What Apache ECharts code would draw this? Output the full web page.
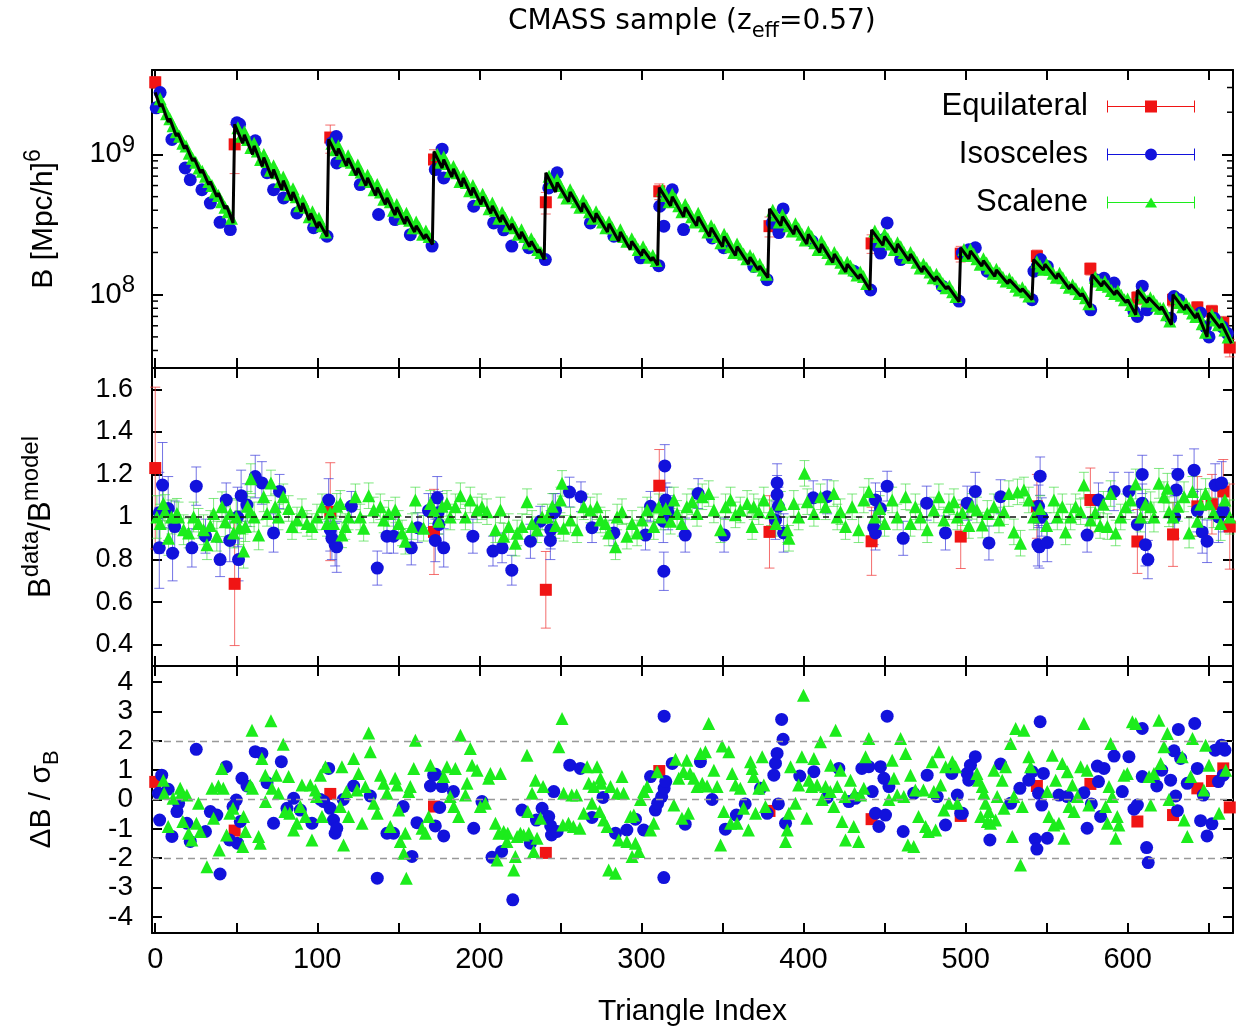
<!DOCTYPE html>
<html><head><meta charset="utf-8">
<script src="https://cdn.jsdelivr.net/npm/echarts@6/dist/echarts.min.js"></script>
<style>html,body{margin:0;padding:0;background:#fff}#c{width:1253px;height:1030px}</style>
</head><body><div id="c"></div>
<script>
// ---------------- axes / ticks ----------------
const X_MIN = -2, X_MAX = 665;
const X_TICKS = [0,50,100,150,200,250,300,350,400,450,500,550,600,650];
const X_LABELS = [0,100,200,300,400,500,600];
const B_UNIT = 1e8;               // top panel values are stored in units of 1e8 (Mpc/h)^6
const B_MIN = 3e7, B_MAX = 4e9;
const B_MINOR_TICKS = [4e7,5e7,6e7,7e7,8e7,9e7,2e8,3e8,4e8,5e8,6e8,7e8,8e8,9e8,2e9,3e9];
const RATIO_TICKS = [0.4,0.6,0.8,1,1.2,1.4,1.6];
const DEV_TICKS = [-4,-3,-2,-1,0,1,2,3,4];

// ---------------- Equilateral (red) ----------------
const equIdx      = [0,49,108,172,241,311,379,442,497,544,577,606,628,643,652,659,663];
const equB        = [32.7,11.8,13.2,9.2,4.56,5.46,3.08,2.32,1.96,1.88,1.53,0.95,0.92,0.81,0.76,0.63,0.42];
const equBErr     = [3.0,4.5,3.0,1.6,0.8,0.7,0.5,0.35,0.25,0.2,0.15,0.1,0.1,0.08,0.08,0.07,0.06];
const equRatio    = [1.23,0.686,1.025,0.93,0.658,1.147,0.93,0.886,0.908,1.05,1.08,0.885,0.918,1.05,1.06,1.12,0.955];
const equRatioErr = [0.38,0.29,0.23,0.2,0.18,0.17,0.17,0.16,0.15,0.15,0.15,0.15,0.15,0.14,0.14,0.15,0.2];
const equDev      = [0.6,-1.06,0.19,-0.24,-1.82,0.97,-0.39,-0.67,-0.56,0.46,0.53,-0.75,-0.53,0.38,0.63,1.06,-0.27];

// ---------------- model (black line, top panel) [index, B/1e8] ----------------
const modelB = [
[0,27.7],[3,22],[4,23],[8,17],[9,18],[13,13.5],[14,14.2],[18,11],[19,11.6],[23,9],[24,9.4],[28,7.4],[29,7.8],[33,6.1],[34,6.4],[38,5.0],[39,5.3],[43,4.1],[44,4.3],[48,3.25],
[49,16.4],[54,12],[55,13.8],[60,10],[61,11.5],[66,8.2],[67,9.5],[72,6.8],[73,7.8],[78,5.6],[79,6.5],[84,4.7],[85,5.4],[90,3.9],[91,4.5],[95,3.4],[96,3.8],[100,3.0],[101,3.3],[106,2.6],
[107,12.8],[112,9.8],[113,11],[118,8.3],[119,9.4],[124,7.1],[125,8.0],[130,6.0],[131,6.8],[136,5.1],[137,5.8],[142,4.4],[143,4.9],[148,3.7],[149,4.2],[154,3.2],[155,3.6],[160,2.8],[161,3.1],[166,2.5],[167,2.7],[171,2.28],
[172,10.5],[177,8.0],[178,9.2],[183,6.9],[184,7.9],[189,5.9],[190,6.8],[195,5.1],[196,5.8],[201,4.4],[202,5.0],[207,3.8],[208,4.3],[213,3.3],[214,3.7],[219,2.9],[220,3.2],[225,2.5],[226,2.8],[231,2.2],[232,2.4],[236,2.0],[237,2.1],[240,1.78],
[241,7.4],[247,5.4],[248,6.3],[255,4.6],[256,5.4],[263,3.9],[264,4.5],[271,3.3],[272,3.8],[279,2.8],[280,3.2],[286,2.4],[287,2.8],[293,2.1],[294,2.4],[300,1.9],[301,2.1],[306,1.75],[307,1.85],[310,1.62],
[311,5.8],[318,4.3],[319,5.0],[326,3.6],[327,4.2],[334,3.1],[335,3.6],[342,2.6],[343,3.0],[350,2.2],[351,2.6],[358,1.9],[359,2.2],[366,1.65],[367,1.85],[372,1.5],[373,1.6],[378,1.32],
[379,4.1],[386,3.1],[387,3.6],[394,2.7],[395,3.1],[402,2.3],[403,2.7],[410,2.0],[411,2.3],[418,1.7],[419,1.95],[426,1.45],[427,1.65],[434,1.3],[435,1.4],[441,1.08],
[442,2.9],[449,2.25],[450,2.6],[457,2.0],[458,2.3],[465,1.75],[466,1.95],[473,1.45],[474,1.6],[481,1.25],[482,1.35],[488,1.1],[489,1.15],[496,0.89],
[497,2.16],[502,1.8],[503,2.05],[510,1.6],[511,1.75],[518,1.35],[519,1.5],[526,1.2],[527,1.28],[534,1.05],[535,1.1],[541,0.92],
[542,1.78],[548,1.5],[549,1.65],[556,1.3],[557,1.42],[564,1.1],[565,1.18],[571,0.98],[572,1.02],[577,0.81],
[578,1.39],[584,1.15],[585,1.25],[592,1.0],[593,1.07],[599,0.88],[600,0.92],[605,0.72],
[606,1.08],[612,0.88],[613,0.95],[620,0.78],[621,0.82],[627,0.61],
[628,1.0],[635,0.78],[636,0.85],[642,0.68],[643,0.74],[649,0.5],
[650,0.74],[657,0.58],[658,0.62],[664,0.45]];

// ---------------- Isosceles (blue) ----------------
const isoB = [[3,27.6],[0.6,21.5],[10.3,12.8],[18.5,8.0],[21.6,6.6],[28.8,5.6],[34,4.5],[40,3.28],[46.3,2.91],[50.4,16.8],[52,16.4],[61.7,12.5],[69,7.4],[73,5.6],[79.2,4.9],[87.4,3.83],[97.7,3.0],[106,2.61],[109,12.1],[111.7,13.4],[112,8.7],[126.5,6.1],[137.8,3.73],[148,3.43],[157.4,2.68],[170.8,2.22],[172.8,7.8],[177,10.9],[178,6.8],[196.5,4.27],[208.8,3.25],[215,2.9],[220,2.22],[230.5,2.16],[240.7,1.78],[242.8,5.77],[243.8,6.6],[248,7.4],[268.5,3.25],[283,2.61],[299.4,1.83],[310.7,1.61],[311.3,4.27],[313.8,3.08],[315.8,5.04],[319,5.6],[326,2.91],[343.6,2.54],[350.8,2.16],[369.3,1.59],[377.5,1.28],[380.7,3.25],[387.4,4.09],[384.8,2.77],[405.3,2.4],[431,1.47],[441.4,1.08],[445.5,2.22],[451.6,3.25],[447.5,1.98],[459.9,1.78],[449.6,2.47],[485.6,1.15],[495.9,0.9],[498,1.98],[502,2.09],[506,2.16],[513.4,1.47],[542.2,1.47],[546.3,1.78],[544.2,1.59],[550.4,1.59],[541,0.92],[577.2,0.78],[580.2,1.28],[585.4,1.31],[591.6,1.21],[603.9,0.76],[606,0.70],[609,1.15],[612,0.78],[626.5,0.68],[628.6,0.97],[631.7,0.92],[645,0.74],[648,0.59],[650.2,0.5],[653.3,0.68],[658.5,0.59],[661.5,0.53]];
// [index, ratio, error]
const isoRatio = [[2.5,1.02,0.19],[2.5,0.855,0.19],[4.5,1.15,0.2],[8,1.04,0.15],[10.7,0.83,0.13],[12,0.955,0.12],[22.6,0.855,0.09],[25.3,1.145,0.09],[31,0.91,0.08],[40,0.80,0.08],[43.8,1.08,0.08],[46,0.89,0.1],[50.8,1.0,0.14],[51.4,0.80,0.1],[53,1.10,0.12],[56.6,1.056,0.1],[61.7,1.19,0.1],[65.8,1.16,0.1],[73,0.925,0.09],[76.7,1.12,0.08],[107,1.08,0.1],[108,0.94,0.1],[109,0.90,0.1],[111,0.87,0.1],[112,0.86,0.12],[121,1.05,0.07],[137,0.76,0.08],[143,0.91,0.08],[147,0.91,0.08],[158,0.855,0.08],[162,0.95,0.07],[168.6,1.03,0.08],[174,1.09,0.1],[174.5,1.02,0.1],[175,0.965,0.1],[172.8,0.89,0.1],[178,0.855,0.09],[196,0.91,0.08],[208.4,0.84,0.07],[214,0.855,0.07],[220,0.75,0.07],[231.5,0.886,0.08],[237.6,0.98,0.07],[243.8,0.89,0.09],[244,0.94,0.09],[245.9,1.02,0.09],[247,1.03,0.08],[255.6,1.117,0.07],[262.7,1.095,0.07],[269.5,0.95,0.07],[283,0.925,0.06],[302.5,0.915,0.07],[305.6,1.05,0.07],[314.4,1.24,0.1],[313.8,0.745,0.09],[313.5,0.98,0.1],[316,1.05,0.09],[316.5,1.02,0.08],[315,1.08,0.08],[327,0.915,0.08],[335,1.11,0.07],[351,0.915,0.08],[383.7,1.16,0.09],[383.7,1.105,0.09],[384.5,1.05,0.09],[382.7,0.985,0.09],[387.7,0.925,0.09],[406,1.09,0.08],[414.6,1.095,0.08],[451.6,1.145,0.07],[444.4,1.08,0.08],[447.5,1.04,0.08],[443.3,0.95,0.08],[444.4,0.925,0.08],[461.5,0.90,0.08],[476,1.065,0.08],[487.6,0.925,0.08],[501,1.065,0.08],[506,1.12,0.09],[514.4,0.878,0.08],[521.6,1.095,0.08],[545,1.05,0.1],[546,1.192,0.09],[544.6,0.87,0.1],[545.5,0.86,0.1],[550.4,0.88,0.09],[547,1.0,0.09],[575,0.915,0.08],[582,1.08,0.08],[591.6,1.12,0.09],[600.8,1.12,0.09],[609,1.2,0.09],[609,1.065,0.09],[606,0.965,0.09],[611,0.87,0.1],[612.5,0.80,0.09],[631,1.2,0.09],[630,1.127,0.1],[629,1.0,0.1],[641,1.22,0.1],[643,1.03,0.1],[646,0.93,0.1],[649,0.886,0.1],[654,1.15,0.1],[658,1.16,0.1],[659,1.03,0.1],[656,1.0,0.12]];
const isoDev = [[2.7,-0.70],[4,0.83],[2,0.21],[8,0.35],[10.3,-1.26],[13.4,-0.41],[14.4,-0.13],[19.5,-0.81],[21.6,-1.43],[25.3,1.71],[31,-1.09],[34,-0.41],[38,-0.53],[40,-2.54],[43.8,1.12],[45.9,-1.38],[48,-0.24],[50,-0.02],[50.8,-1.49],[52.5,-0.75],[53.5,0.72],[56.6,0.46],[61.7,1.63],[65.8,1.57],[69,0.57],[73,-0.81],[77.8,1.29],[81.3,-0.3],[85.4,0.04],[89.5,-0.36],[96.7,-0.81],[101.9,0],[104,-0.07],[107,1.06],[108,-0.3],[110,-0.70],[111,-1.15],[112,-0.98],[116,0],[122.4,0.46],[132.7,0.12],[137,-2.68],[143,-1.15],[147,-1.15],[153,-0.24],[158.4,-1.94],[161.5,-0.79],[169.8,0.46],[171.8,0.83],[173,0.86],[177,0.44],[175.5,-0.27],[172.8,-0.9],[178,-1.24],[184,0.27],[196.5,-0.98],[201.6,-0.07],[207.8,-1.97],[213.7,-1.77],[220.6,-3.42],[226.3,-0.36],[231.5,-1.49],[235.2,-0.70],[238.7,-0.3],[242.8,-0.58],[244,-0.9],[244.5,-1.21],[248,-1.09],[245.9,0.27],[255.8,1.17],[262.3,1.06],[269.5,-0.61],[276.3,0.07],[284,-1.15],[291,-1.04],[296.3,-0.67],[301.4,-1.04],[305.6,0.78],[308.6,-0.36],[310,-0.13],[312.5,0.1],[314,0.38],[315,0.61],[314,2.84],[313.8,-2.66],[319,1.23],[327,-0.84],[336.4,1.29],[343.6,0],[351.8,-1.01],[358.6,-0.53],[364,-0.15],[373.5,0.38],[377.6,-0.47],[381.7,0.83],[382.7,1.23],[383.7,1.57],[387.4,2.05],[386.5,2.73],[384.5,-0.15],[388.9,-0.81],[397.7,0.80],[406.4,0.95],[414.6,0.07],[421.8,1.06],[428,-0.07],[432,0.04],[436,1.06],[440.3,1.12],[442.4,0.27],[444.4,-0.47],[446.5,-0.92],[447.5,1.12],[449.6,0.72],[450.6,-0.53],[452.7,0.44],[451.6,2.84],[461.5,-1.09],[468,0.21],[476.3,0.83],[482.5,0.1],[487.6,-0.87],[491.5,0.89],[494.9,0.15],[497,-0.47],[498,-0.47],[501,0.89],[503,1.17],[506,1.46],[502,0.66],[515,-1.38],[521.6,1.21],[527.8,-0.13],[533.5,0.38],[539,0.66],[541,0.95],[543,-1.35],[544,-1.69],[545,0.21],[546,2.65],[547,-0.19],[548,0.89],[550.4,-1.32],[557.6,0.15],[562.8,0.1],[573,0.23],[575,-0.98],[577.6,-0.15],[581.3,1.14],[582,0.61],[585.4,1.06],[583.3,-0.58],[591.6,1.48],[596.7,0.27],[600.8,1.46],[603.9,-0.33],[606,-0.19],[609,2.42],[609,0.78],[611.7,-1.64],[612.7,-2.15],[618,0.46],[621,1.0],[626.5,0.66],[628.6,1.66],[629.6,0.12],[630.7,-0.38],[631.3,2.39],[632.7,1.40],[636.8,0.55],[641.4,2.59],[643,1.06],[645,-0.72],[646.7,0.15],[649,-1.24],[652,-0.83],[654,1.68],[658,1.85],[660,1.68],[659,0.83],[656,0.61]];

// ---------------- Scalene (green) ----------------
const scaB = [[3,25],[5,22],[7,19.5],[9,18],[11,16],[13,14.5],[15,13.5],[17,12],[19,11.5],[21,10.2],[23,9.4],[25,8.8],[27,8],[29,7.6],[31,7],[33,6.4],[35,6],[37,5.4],[39,5.1],[41,4.6],[43,4.2],[45,3.9],[47,3.5],
[51,15.5],[53,13.5],[55,14.5],[57,12.8],[59,11.2],[61,12],[63,10.6],[65,9.2],[67,10],[69,8.9],[71,7.7],[73,8.3],[75,7.4],[77,6.4],[79,6.9],[81,6.1],[83,5.2],[85,5.7],[87,5.0],[89,4.3],[91,4.7],[93,4.2],[95,3.6],[97,3.9],[99,3.4],[101,3.5],[103,3.1],[105,2.8],
[109,12],[111,10.8],[113,11.5],[115,10.2],[117,9],[119,9.8],[121,8.8],[123,7.8],[125,8.4],[127,7.5],[129,6.6],[131,7.1],[133,6.4],[135,5.6],[137,6.1],[139,5.4],[141,4.8],[143,5.2],[145,4.6],[147,4.0],[149,4.4],[151,3.9],[153,3.5],[155,3.8],[157,3.4],[159,3.0],[161,3.3],[163,3.0],[165,2.7],[167,2.85],[169,2.6],
[174,10],[176,8.8],[178,9.6],[180,8.6],[182,7.6],[184,8.2],[186,7.4],[188,6.4],[190,7.0],[192,6.3],[194,5.5],[196,6.0],[198,5.4],[200,4.8],[202,5.2],[204,4.7],[206,4.1],[208,4.5],[210,4.0],[212,3.5],[214,3.85],[216,3.5],[218,3.1],[220,3.3],[222,3.0],[224,2.7],[226,2.9],[228,2.6],[230,2.35],[232,2.5],[234,2.3],[236,2.1],[238,2.0],
[243,7],[245,6.3],[248,6.6],[250,6],[252,5.4],[254,4.9],[256,5.6],[258,5.1],[260,4.6],[262,4.2],[264,4.7],[266,4.3],[268,3.9],[270,3.5],[272,3.9],[274,3.6],[276,3.3],[278,3.0],[280,3.3],[282,3.0],[284,2.7],[287,2.9],[289,2.6],[291,2.4],[294,2.5],[296,2.3],[298,2.1],[301,2.2],[303,2.0],[305,1.85],[307,1.9],[309,1.75],
[313,5.6],[315,5.1],[317,4.6],[319,5.2],[321,4.8],[323,4.3],[325,3.9],[327,4.4],[329,4.0],[331,3.6],[333,3.3],[335,3.8],[337,3.4],[339,3.1],[341,2.8],[343,3.1],[345,2.9],[347,2.6],[349,2.35],[351,2.7],[353,2.5],[355,2.2],[357,2.0],[359,2.3],[361,2.1],[363,1.95],[365,1.8],[367,1.9],[369,1.8],[371,1.6],[373,1.65],[375,1.5],[377,1.4],
[381,4.0],[383,3.7],[385,3.3],[387,3.7],[389,3.4],[391,3.1],[393,2.85],[395,3.2],[397,2.95],[399,2.7],[401,2.45],[403,2.8],[405,2.6],[407,2.35],[409,2.1],[411,2.4],[413,2.2],[415,2.0],[417,1.8],[419,2.0],[421,1.85],[423,1.7],[425,1.55],[427,1.7],[429,1.6],[431,1.5],[433,1.38],[435,1.45],[437,1.35],[439,1.2],
[444,2.85],[446,2.6],[448,2.4],[450,2.7],[452,2.5],[454,2.3],[456,2.1],[458,2.35],[460,2.2],[462,2.0],[464,1.85],[466,2.0],[468,1.85],[470,1.7],[472,1.55],[474,1.65],[476,1.55],[478,1.45],[480,1.32],[482,1.4],[484,1.3],[486,1.2],[488,1.12],[490,1.15],[492,1.05],[494,0.97],
[499,2.1],[501,1.9],[503,2.1],[505,1.95],[507,1.8],[509,1.65],[511,1.8],[513,1.68],[515,1.55],[517,1.42],[519,1.52],[521,1.42],[523,1.33],[525,1.25],[527,1.3],[529,1.22],[531,1.15],[533,1.08],[535,1.12],[537,1.05],[539,0.98],
[544,1.72],[546,1.6],[548,1.52],[550,1.65],[552,1.52],[554,1.42],[556,1.33],[558,1.42],[560,1.32],[562,1.22],[564,1.13],[566,1.17],[568,1.1],[570,1.02],[572,1.04],[574,0.95],[576,0.86],
[580,1.33],[582,1.25],[584,1.18],[586,1.24],[588,1.15],[590,1.07],[592,1.02],[594,1.06],[596,0.99],[598,0.92],[600,0.93],[602,0.85],[604,0.77],
[608,1.03],[610,0.96],[612,0.9],[614,0.95],[616,0.9],[618,0.84],[620,0.8],[622,0.8],[624,0.72],[626,0.65],
[630,0.95],[632,0.88],[634,0.82],[636,0.86],[638,0.8],[640,0.74],[642,0.7],[644,0.72],[646,0.62],[648,0.54],
[652,0.72],[654,0.66],[656,0.61],[658,0.63],[660,0.56],[662,0.5]];
// [index, ratio, error]
const scaRatio = [[1,1.0,0.1],[3,0.97,0.09],[5,1.064,0.08],[6,1.025,0.08],[8.2,0.90,0.08],[10,1.0,0.08],[13.4,1.017,0.07],[14.4,1.0,0.07],[17.5,0.94,0.07],[20.6,0.925,0.07],[23.7,1.0,0.07],[26.7,0.97,0.07],[29.8,0.94,0.07],[31.9,0.87,0.07],[34,0.96,0.07],[36,1.017,0.07],[38,0.91,0.07],[41.2,1.048,0.07],[43.2,0.978,0.07],[46.3,1.017,0.07],[48.3,0.925,0.07],[50,1.0,0.08],[52,0.95,0.08],[54.5,0.84,0.08],[55.6,0.955,0.07],[57,1.05,0.07],[58.6,1.025,0.07],[59,1.18,0.07],[61,1.0,0.07],[63.8,0.916,0.07],[66.9,1.095,0.07],[71.4,1.16,0.06],[69,1.017,0.06],[74,1.048,0.06],[76,1.0,0.06],[79,1.095,0.06],[82.3,1.04,0.06],[84.4,0.955,0.06],[87.5,0.986,0.06],[90.5,1.025,0.06],[93.6,0.97,0.06],[96.7,0.955,0.06],[99.8,1.0,0.06],[102.9,1.048,0.06],[106,0.97,0.06],[108,1.02,0.06],[110,0.97,0.06],[112,1.05,0.06],[114.2,1.064,0.06],[115.2,0.916,0.06],[117.3,0.955,0.06],[119.3,1.0,0.06],[123.5,1.095,0.06],[126.5,1.0,0.06],[128.6,0.947,0.06],[131.7,1.10,0.06],[134.8,1.033,0.06],[138.9,1.048,0.06],[141,0.986,0.06],[144,1.017,0.06],[148.1,1.033,0.06],[150.2,0.97,0.06],[152.3,0.925,0.06],[154.3,0.886,0.06],[158.4,0.955,0.06],[160.5,1.08,0.06],[165.6,0.947,0.06],[169.8,1.064,0.06],[172,1.03,0.06],[175,0.98,0.06],[177,1.05,0.06],[180,1.064,0.06],[182,1.0,0.06],[185.2,1.048,0.06],[188.3,1.10,0.06],[191.4,1.0,0.06],[194.4,1.08,0.06],[198.6,1.033,0.06],[201.6,1.048,0.06],[204.7,1.025,0.06],[209.9,0.94,0.06],[213,1.033,0.06],[215,0.91,0.06],[218.1,0.955,0.06],[222.2,0.877,0.06],[223.3,0.925,0.06],[226.3,0.955,0.06],[229.4,1.072,0.06],[232.5,0.97,0.06],[235.6,0.94,0.06],[238.7,1.0,0.06],[242,1.0,0.06],[245,1.05,0.06],[247,0.96,0.06],[251,1.158,0.06],[250,1.08,0.06],[252,0.947,0.06],[256.2,0.986,0.06],[260.3,0.94,0.06],[264.4,1.048,0.06],[268.5,1.033,0.06],[272.6,1.048,0.06],[274.7,0.986,0.06],[277.8,0.97,0.06],[279.8,0.925,0.06],[284,0.86,0.06],[285,1.0,0.06],[288,1.025,0.06],[291,0.91,0.06],[294.2,0.97,0.06],[297.3,0.925,0.06],[300.4,0.986,0.06],[303.5,1.033,0.06],[307.6,0.955,0.06],[310.7,1.048,0.06],[312,1.0,0.06],[315,1.04,0.06],[318,0.98,0.06],[320,1.08,0.06],[322,1.017,0.06],[325,0.97,0.06],[328,1.048,0.06],[331.3,1.072,0.06],[334.3,1.017,0.06],[337.5,1.095,0.06],[341.5,1.11,0.06],[344.7,1.033,0.06],[348.8,0.94,0.06],[351.9,1.048,0.06],[355,1.08,0.06],[358,1.01,0.06],[361,1.033,0.06],[365.2,1.064,0.06],[368.3,0.955,0.06],[369.3,1.048,0.06],[372.4,1.025,0.06],[375.5,1.08,0.06],[380,1.02,0.06],[383,0.97,0.06],[386,1.06,0.06],[390,0.94,0.06],[391,0.90,0.06],[394,1.064,0.06],[397,1.0,0.06],[400.6,1.205,0.06],[402.3,1.072,0.06],[406.4,1.017,0.06],[410.5,1.095,0.06],[413.6,1.048,0.06],[418.7,1.11,0.06],[420.8,1.0,0.06],[422.8,1.025,0.06],[425.9,0.955,0.06],[430,1.048,0.06],[434,0.94,0.06],[437.2,1.08,0.06],[440.3,1.12,0.06],[444,1.0,0.06],[447,1.04,0.06],[450,0.97,0.06],[454.7,1.08,0.06],[457.8,1.0,0.06],[463,1.095,0.06],[466,0.97,0.06],[469,1.048,0.06],[472.2,1.0,0.06],[476.3,0.94,0.06],[480.4,1.033,0.06],[483.5,1.095,0.06],[486.6,0.986,0.06],[489.7,1.048,0.06],[492.8,1.072,0.06],[494.9,1.0,0.06],[498,1.02,0.06],[502,0.96,0.06],[504,1.05,0.06],[507,1.033,0.06],[510.3,0.962,0.06],[513.4,1.017,0.06],[517.5,1.048,0.06],[520.6,0.986,0.06],[523.7,1.025,0.06],[526.7,1.11,0.06],[529.8,0.93,0.06],[532,1.118,0.06],[533.9,0.877,0.06],[536,1.127,0.06],[539,1.08,0.06],[542,1.0,0.06],[546,1.04,0.06],[550,0.96,0.06],[554.5,1.08,0.06],[556.6,1.0,0.06],[559.7,1.048,0.06],[561.7,0.93,0.06],[564.8,1.0,0.06],[567.9,1.048,0.06],[571,1.025,0.06],[573,1.15,0.06],[577.2,0.986,0.06],[580,1.02,0.06],[583,0.96,0.06],[585,1.06,0.06],[587.5,0.955,0.06],[589.5,1.11,0.06],[592.6,0.925,0.06],[595.7,1.0,0.06],[598.8,1.048,0.06],[601.8,1.08,0.06],[605,1.155,0.07],[608,1.0,0.07],[611,1.06,0.07],[614.2,1.048,0.07],[616.2,1.0,0.07],[619.3,1.158,0.07],[622.4,1.095,0.07],[624.5,1.135,0.07],[625.5,1.025,0.07],[628,1.0,0.07],[631,1.05,0.07],[634.8,1.095,0.07],[637.9,0.925,0.07],[640,1.12,0.07],[643,0.98,0.07],[645,1.06,0.07],[648.1,1.11,0.07],[650.2,1.064,0.07],[653,1.02,0.07],[657.4,0.97,0.08],[660,1.08,0.08],[663,1.0,0.08]];
const scaDev = [[5,0.66],[5.5,0.21],[8,-0.92],[11,0.04],[15.4,0.38],[16,0.21],[19.5,0.15],[17,-0.75],[20.6,-1.15],[22.6,-1.38],[26.7,-0.13],[25.4,-0.81],[27.8,-1.09],[31.9,-2.29],[35,0.38],[36,-0.64],[39,0.46],[42,0.38],[41,1.06],[39.5,-1.72],[44,-1.21],[46,-0.47],[48,-0.3],[54.5,-0.58],[55.6,-1.09],[54,-1.6],[59.7,2.36],[58.6,0.49],[60,0.38],[63.8,-1.26],[64.8,-1.49],[65.8,1.40],[67.9,0.83],[68,-0.07],[71.4,2.68],[72,0.38],[74.7,0.83],[76,0.21],[79,1.88],[82.3,0.78],[80,-0.41],[83,-0.47],[85.4,-1.04],[87.4,-0.81],[89.5,-0.24],[90.5,0.49],[92.6,-0.58],[95.7,0.49],[96.7,-1.38],[98.8,0.32],[99.5,0.1],[101.9,0.83],[102.9,-0.58],[105,1.12],[114.2,-0.24],[115.2,1.12],[116.2,-1.55],[118,0.27],[119.3,-0.58],[122.4,1.40],[124.5,0.32],[125.5,0.89],[127.6,-0.81],[129.6,0.44],[131.7,2.27],[132.7,1.63],[134.8,-0.13],[137,-0.47],[139,0.83],[141,0.55],[143,0.21],[145,-0.92],[148,0.72],[149.2,0.49],[150.2,-0.36],[151.2,-1.43],[153.3,-1.83],[154.3,-1.15],[154.9,-2.68],[156.4,0.27],[159.5,1.06],[160.5,2.02],[157.4,0.44],[164.6,-0.98],[166.7,-1.15],[169.8,1.17],[168.7,-0.58],[178,0.78],[180,1.12],[182,0.1],[185.2,1.06],[184.2,-0.24],[187.2,-0.58],[188.3,2.19],[191.4,0.15],[194.4,1.74],[192.4,0.55],[195.5,1.17],[198.6,1.0],[200.6,-0.24],[203.7,-0.13],[205.7,0.72],[206.8,0.89],[209.9,-0.81],[213,0.89],[210.9,-2.06],[212,-1.15],[215,-1.09],[217,-1.43],[217.5,-1.15],[221.2,-2.40],[222.2,-1.94],[223.3,-1.26],[225.3,-1.15],[227.3,-1.21],[229.4,1.51],[229.9,-0.41],[230.5,-1.15],[232.5,0.21],[233.5,-1.77],[234.6,0.66],[235.6,-1.32],[237.7,-0.64],[239.3,0.44],[249,1.80],[251,2.76],[252,0.21],[251.5,-0.87],[255,-0.81],[257,0.15],[258,-0.92],[260,0.15],[262,-0.98],[264.4,-0.47],[266.5,1.12],[267.5,0.55],[269.5,-0.13],[270.6,0.44],[272.6,1.12],[274.7,0.72],[275.2,0.55],[274.2,-0.41],[276.7,-0.7],[279.8,-2.40],[278.8,-0.92],[280.9,0.44],[284,-2.51],[285,0.21],[286,-1.38],[288,0.78],[289,0.21],[291,-1.43],[293.2,-0.58],[294.2,-1.94],[295.3,-0.53],[296.3,-1.49],[298.4,-1.77],[299.4,0],[301.4,0.27],[303.5,0.44],[305.6,-1.04],[307.6,-0.81],[309.7,0.95],[320,-0.19],[321,1.37],[323,0.72],[325,-0.64],[326,0.95],[328,1.34],[329,-0.47],[330,0.89],[332.3,0.72],[334.3,0.44],[336.4,1.57],[337.5,0.55],[339.5,1.63],[340.5,0.46],[341.5,2.59],[344.7,1.0],[346.7,0.44],[348.8,-1.55],[349.8,1.82],[350.8,-0.41],[353.9,1.63],[355,-0.81],[356,0.89],[358,0.49],[359,-0.81],[361,0.38],[363,-0.3],[366,-1.04],[367.3,1.29],[368.3,1.06],[369.3,0.78],[370.4,-0.47],[372.4,0.38],[374.5,1.46],[375.5,0.49],[376.5,-0.24],[388.9,-1.43],[390,-1.04],[391,-0.47],[392,1.12],[395,-0.13],[397,0.49],[399,1.46],[400,3.55],[402,-0.64],[403.3,0.66],[405,0.44],[406.4,1.40],[408.4,0.49],[410.5,1.97],[411.5,0],[413.6,0.44],[416.7,1.17],[418.7,-0.24],[419.8,2.36],[420.8,0.44],[416.5,0.27],[422.8,1.0],[423.8,-0.75],[425.9,-1.38],[425.5,0.1],[429,0.66],[431,-0.92],[431.5,0.21],[434,-1.43],[435.2,0.15],[437.2,0.38],[438.3,1.46],[440.3,2.08],[452.7,0],[454.7,1.34],[455.8,0.72],[457.8,0.15],[459.9,2.08],[461.9,0.1],[463,1.57],[464.4,-1.55],[466,0.83],[468,-1.6],[469,0.32],[471,-0.58],[474,0.32],[475.3,-0.92],[477,-1.09],[479.4,1.29],[480.4,0.27],[481.5,-1.04],[483.5,1.63],[484.6,0.49],[486.6,-0.36],[487.7,1.12],[489.7,-0.13],[491.8,1.29],[493.8,1.12],[494.9,-0.13],[507,0.89],[508,0.66],[509.3,-0.58],[510.3,0.44],[511.3,0.21],[512.3,-0.13],[513.4,-0.75],[514.4,-0.41],[515.4,-0.81],[517.5,1.0],[518.5,-0.7],[519.5,0.1],[522.6,0.66],[523.7,-0.3],[524.7,1.12],[527.8,1.91],[528.8,-1.26],[529.8,0.1],[530.9,2.42],[533.9,-2.23],[535,-0.24],[536,2.36],[539,1.46],[540.1,1.12],[550.4,0.27],[551.4,-0.58],[553.5,1.51],[554.5,-0.87],[555.6,0.66],[557.6,-0.81],[559.7,1.23],[560.7,-1.32],[562.8,0.95],[563.8,-0.24],[565.9,0.49],[566.9,-0.41],[569,0.1],[571,1.12],[573,2.59],[575,1.0],[576,-0.19],[586.4,-0.24],[587.5,-0.81],[588.5,0.44],[589.5,1.91],[590.5,0.1],[592.6,-1.32],[593.6,-0.58],[594.6,-0.87],[597.7,0.83],[599.8,0.89],[602.9,2.65],[605,2.59],[613.2,0.78],[614.2,-0.19],[616.2,0.89],[619.3,2.70],[620.4,1.23],[622.4,1.80],[624.5,2.25],[625.5,0],[633.7,1.46],[634.8,-0.70],[636.8,-1.26],[638.9,0.78],[640,2.08],[647,0.32],[648.1,1.85],[650.2,1.17],[656.4,-0.47],[660.5,1.0]];

// ---------------- styling ----------------
const FONT = "'Liberation Sans', Arial, Helvetica, sans-serif";
const RED = '#f01414', BLUE = '#1212dc', GREEN = '#1cec1c';
const RED_ERR = 'rgba(240,60,60,0.75)', BLUE_ERR = 'rgba(70,70,220,0.75)', GREEN_ERR = 'rgba(60,220,60,0.65)';

function errSeries(name, xi, yi, rows, color, cap) {
  return {
    type: 'custom', name: name, xAxisIndex: xi, yAxisIndex: yi, silent: true,
    data: rows, encode: { x: 0, y: [1, 2] },
    renderItem: function (params, api) {
      const x = api.value(0);
      const a = api.coord([x, api.value(2)]);
      const b = api.coord([x, api.value(1)]);
      const st = { stroke: color, lineWidth: 1 };
      return { type: 'group', children: [
        { type: 'line', shape: { x1: a[0], y1: a[1], x2: b[0], y2: b[1] }, style: st },
        { type: 'line', shape: { x1: a[0] - cap, y1: a[1], x2: a[0] + cap, y2: a[1] }, style: st },
        { type: 'line', shape: { x1: b[0] - cap, y1: b[1], x2: b[0] + cap, y2: b[1] }, style: st }
      ]};
    }
  };
}
function pts(name, xi, yi, data, symbol, size, color, extra) {
  return Object.assign({
    type: 'scatter', name: name, xAxisIndex: xi, yAxisIndex: yi, data: data,
    symbol: symbol, symbolSize: size, silent: true,
    itemStyle: { color: color, opacity: 1 }
  }, extra || {});
}
function xAx(gi, pos, showLabels, name) {
  return {
    type: 'value', gridIndex: gi, position: pos, min: X_MIN, max: X_MAX,
    axisLine: { show: true, onZero: false, lineStyle: { color: '#000', width: 2 } },
    axisTick: { show: true, inside: true, length: 10, customValues: X_TICKS, lineStyle: { color: '#000', width: 2 } },
    axisLabel: { show: showLabels, customValues: X_LABELS, fontSize: 29, fontFamily: FONT, color: '#000', margin: 12 },
    splitLine: { show: false },
    name: name || '', nameLocation: 'middle', nameGap: 64,
    nameTextStyle: { fontSize: 30, fontFamily: FONT, color: '#000' }
  };
}
function yAx(gi, pos, min, max, ticks, showLabels, fs, name, rich) {
  return {
    type: 'value', gridIndex: gi, position: pos, min: min, max: max,
    axisLine: { show: true, onZero: false, lineStyle: { color: '#000', width: 2 } },
    axisTick: { show: true, inside: true, length: 10, customValues: ticks, lineStyle: { color: '#000', width: 2 } },
    axisLabel: { show: showLabels, customValues: ticks, fontSize: fs, fontFamily: FONT, color: '#000', margin: 19 },
    splitLine: { show: false },
    name: name || '', nameLocation: 'middle', nameRotate: 90, nameGap: 95,
    nameTextStyle: { rich: rich || {} }
  };
}
// superscript: both tokens bottom-aligned, the raised token lifted by bottom padding
const supMain = { fontSize: 30, fontFamily: FONT, color: '#000', lineHeight: 30, verticalAlign: 'bottom' };
const supSup = { fontSize: 23, fontFamily: FONT, color: '#000', lineHeight: 23, padding: [0, 0, 14, 0], verticalAlign: 'bottom' };
// subscript: both tokens top-aligned, the lowered token pushed by top padding
const subMain = { fontSize: 30, fontFamily: FONT, color: '#000', lineHeight: 30, verticalAlign: 'top' };
const subSub = { fontSize: 22, fontFamily: FONT, color: '#000', lineHeight: 22, padding: [14, 0, 0, 0], verticalAlign: 'top' };

function logAx(pos, showLabels, withName) {
  return {
    type: 'log', logBase: 10, gridIndex: 0, position: pos, min: B_MIN, max: B_MAX,
    axisLine: { show: true, onZero: false, lineStyle: { color: '#000', width: 2 } },
    axisTick: { show: true, inside: true, length: 11, lineStyle: { color: '#000', width: 2 } },
    axisLabel: {
      show: showLabels, margin: 17,
      formatter: function (v) {
        const l = Math.log10(v), e = Math.round(l);
        return Math.abs(l - e) < 1e-6 ? '{m|10}{s|' + e + '}' : '';
      },
      rich: { m: Object.assign({}, supMain, { fontSize: 29, lineHeight: 29 }), s: Object.assign({}, supSup, { fontSize: 24, lineHeight: 24, padding: [0, 0, 12, 0] }) }
    },
    splitLine: { show: false },
    name: withName ? '{m|B [Mpc/h]}{s|6}' : '', nameLocation: 'middle', nameRotate: 90, nameGap: 93,
    nameTextStyle: { rich: { m: supMain, s: supSup } }
  };
}

const chart = echarts.init(document.getElementById('c'), null, { renderer: 'canvas' });
const toB = v => v * B_UNIT;

const series = [
  // ---- top panel ----
  errSeries('EquilateralErrTop', 0, 0, equIdx.map((x, k) => [x, toB(equB[k] - equBErr[k]), toB(equB[k] + equBErr[k])]), RED_ERR, 5),
  pts('Equilateral', 0, 0, equIdx.map((x, k) => [x, toB(equB[k])]), 'rect', 12, RED),
  pts('Isosceles', 0, 0, isoB.map(p => [p[0], toB(p[1])]), 'circle', 13, BLUE),
  pts('Scalene', 0, 0, scaB.map(p => [p[0], toB(p[1])]), 'triangle', 13, GREEN),
  { type: 'line', name: 'model', xAxisIndex: 0, yAxisIndex: 0, data: modelB.map(p => [p[0], toB(p[1])]),
    symbol: 'none', showSymbol: false, silent: true, lineStyle: { color: '#000', width: 3 }, z: 3 },
  { type: 'custom', name: 'logMinorTicks', xAxisIndex: 0, yAxisIndex: 0, silent: true,
    data: B_MINOR_TICKS.map(v => [0, v]), encode: { x: 0, y: 1 },
    renderItem: function (params, api) {
      const y = api.coord([0, api.value(1)])[1];
      const cs = params.coordSys;
      const st = { stroke: '#000', lineWidth: 1.5 };
      return { type: 'group', children: [
        { type: 'line', shape: { x1: cs.x, y1: y, x2: cs.x + 6, y2: y }, style: st },
        { type: 'line', shape: { x1: cs.x + cs.width - 6, y1: y, x2: cs.x + cs.width, y2: y }, style: st }
      ]};
    } },
  // ---- middle panel ----
  errSeries('EquilateralErrMid', 2, 2, equIdx.map((x, k) => [x, equRatio[k] - equRatioErr[k], equRatio[k] + equRatioErr[k]]), RED_ERR, 5),
  pts('Equilateral', 2, 2, equIdx.map((x, k) => [x, equRatio[k]]), 'rect', 12, RED, {
    markLine: { silent: true, symbol: ['none', 'none'], label: { show: false },
      lineStyle: { color: '#111', type: [6, 5], width: 1.5 }, data: [{ yAxis: 1 }] } }),
  errSeries('IsoscelesErrMid', 2, 2, isoRatio.map(p => [p[0], p[1] - p[2], p[1] + p[2]]), BLUE_ERR, 5),
  pts('Isosceles', 2, 2, isoRatio.map(p => [p[0], p[1]]), 'circle', 13, BLUE),
  errSeries('ScaleneErrMid', 2, 2, scaRatio.map(p => [p[0], p[1] - p[2], p[1] + p[2]]), GREEN_ERR, 5),
  pts('Scalene', 2, 2, scaRatio.map(p => [p[0], p[1]]), 'triangle', 13, GREEN),
  // ---- bottom panel ----
  pts('Equilateral', 4, 4, equIdx.map((x, k) => [x, equDev[k]]), 'rect', 12, RED, {
    markLine: { silent: true, symbol: ['none', 'none'], label: { show: false },
      lineStyle: { color: '#999', type: [7, 5], width: 1.4 }, data: [{ yAxis: 2 }, { yAxis: 0 }, { yAxis: -2 }] } }),
  pts('Isosceles', 4, 4, isoDev, 'circle', 13, BLUE),
  pts('Scalene', 4, 4, scaDev, 'triangle', 13, GREEN)
];

const capPath = 'M0,1H1V13H0ZM87,1H88V13H87ZM0,6.5H88V7.5H0Z';
const TITLE_FONT = "'DejaVu Sans', sans-serif";
chart.setOption({
  animation: false,
  backgroundColor: '#fff',
  title: {
    text: '{a|CMASS sample (z}{b|eff}{a|=0.57)}',
    left: 508, top: 8, padding: 0,
    textStyle: { fontWeight: 'normal', rich: {
      a: { fontFamily: TITLE_FONT, fontWeight: 'normal', fontSize: 28, lineHeight: 28, color: '#000', verticalAlign: 'top' },
      b: { fontFamily: TITLE_FONT, fontWeight: 'normal', fontSize: 21, lineHeight: 21, color: '#000', padding: [13, 0, 0, 0], verticalAlign: 'top' }
    } }
  },
  legend: {
    orient: 'vertical', right: 58, top: 91, padding: 0, itemGap: 17,
    itemWidth: 88, itemHeight: 12, align: 'right', selectedMode: false,
    textStyle: { fontSize: 31, fontFamily: FONT, color: '#000', padding: [0, 14, 0, 0] },
    data: [
      { name: 'Equilateral', icon: 'path://' + capPath + 'M38,1H50V13H38Z' },
      { name: 'Isosceles', icon: 'path://' + capPath + 'M50,7A6,6,0,1,1,38,7A6,6,0,1,1,50,7Z' },
      { name: 'Scalene', icon: 'path://' + capPath + 'M44,2L50,12H38Z' }
    ]
  },
  grid: [
    { left: 152, top: 70, width: 1081, height: 298, outerBoundsMode: 'none' },
    { left: 152, top: 368, width: 1081, height: 298, outerBoundsMode: 'none' },
    { left: 152, top: 666, width: 1081, height: 267, outerBoundsMode: 'none' }
  ],
  xAxis: [
    xAx(0, 'bottom', false), xAx(0, 'top', false),
    xAx(1, 'bottom', false), xAx(1, 'top', false),
    xAx(2, 'bottom', true, 'Triangle Index'), xAx(2, 'top', false)
  ],
  yAxis: [
    logAx('left', true, true), logAx('right', false, false),
    yAx(1, 'left', 0.3, 1.7, RATIO_TICKS, true, 27, '{m|B}{s|data}{m|/B}{s|model}',
        { m: Object.assign({}, supMain, { fontSize: 31, lineHeight: 31 }), s: Object.assign({}, supSup, { fontSize: 24, lineHeight: 24 }) }),
    yAx(1, 'right', 0.3, 1.7, RATIO_TICKS, false, 27),
    yAx(2, 'left', -4.55, 4.55, DEV_TICKS, true, 28, '{m|ΔB / σ}{u|B}',
        { m: subMain, u: subSub }),
    yAx(2, 'right', -4.55, 4.55, DEV_TICKS, false, 28)
  ],
  series: series
});
</script>
</body></html>
